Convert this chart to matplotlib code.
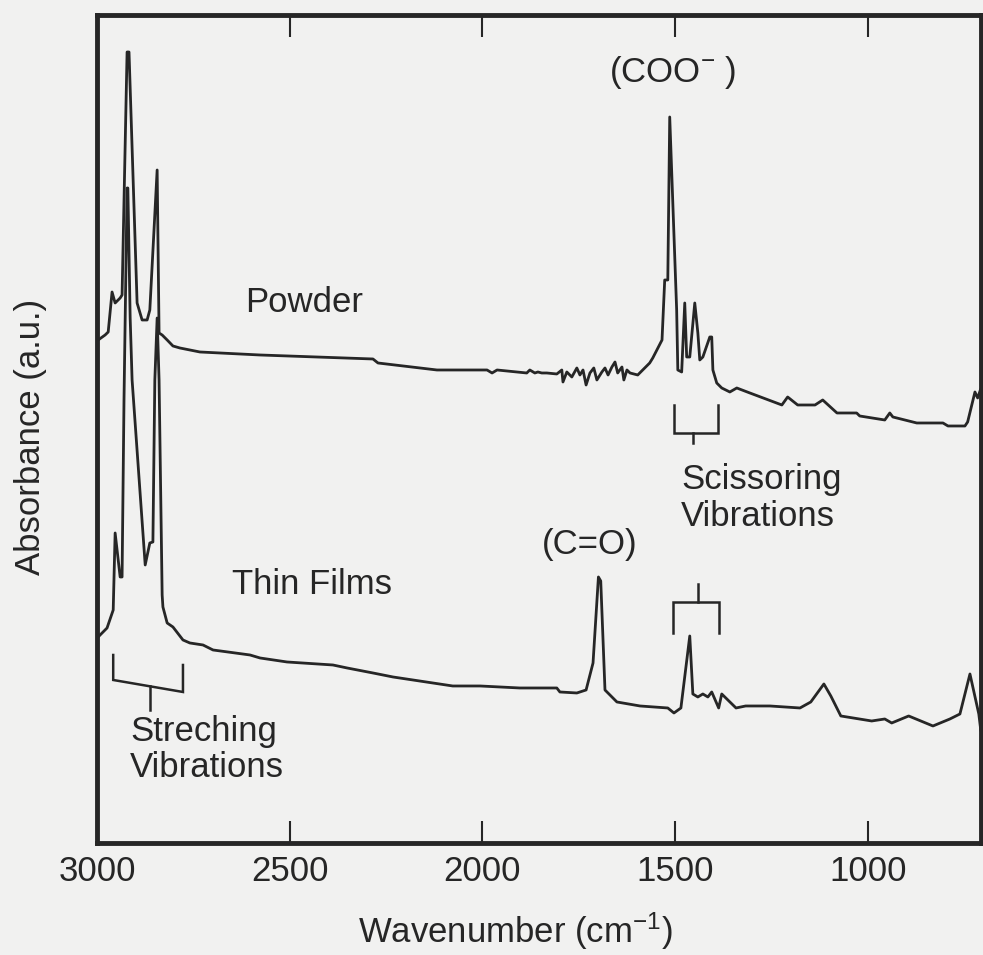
import matplotlib
matplotlib.use("Agg")
from matplotlib import pyplot as plt

# IR spectra (wavenumber in cm-1, absorbance in a.u.)
powder_wn = [2997, 2979, 2971, 2961, 2953, 2940, 2935, 2922, 2917, 2896, 2883, 2870,
             2863, 2844, 2839, 2831, 2818, 2803, 2785, 2733, 2577, 2284, 2271, 2118,
             1988, 1975, 1962, 1885, 1877, 1864, 1856, 1846, 1833, 1807, 1794, 1791,
             1781, 1768, 1755, 1747, 1739, 1731, 1721, 1711, 1703, 1690, 1682, 1674,
             1664, 1656, 1649, 1638, 1633, 1625, 1617, 1597, 1566, 1558, 1534, 1527,
             1519, 1514, 1496, 1493, 1483, 1475, 1470, 1462, 1449, 1441, 1436, 1428,
             1410, 1405, 1402, 1392, 1379, 1358, 1340, 1306, 1223, 1208, 1182, 1137,
             1117, 1080, 1029, 1021, 956, 943, 935, 873, 805, 792, 748, 741, 722, 715, 708]
powder_abs = [5.03, 5.08, 5.11, 5.51, 5.40, 5.45, 5.48, 7.91, 7.91, 5.40, 5.23, 5.23,
              5.33, 6.73, 5.10, 5.08, 5.03, 4.97, 4.95, 4.91, 4.88, 4.84, 4.80, 4.73,
              4.73, 4.70, 4.73, 4.70, 4.73, 4.70, 4.71, 4.70, 4.70, 4.69, 4.73, 4.61,
              4.71, 4.66, 4.75, 4.68, 4.73, 4.58, 4.70, 4.75, 4.63, 4.71, 4.75, 4.68,
              4.76, 4.81, 4.70, 4.76, 4.63, 4.73, 4.70, 4.68, 4.80, 4.85, 5.03, 5.63,
              5.63, 7.26, 5.33, 4.73, 4.71, 5.40, 4.86, 4.86, 5.40, 5.10, 4.83, 4.86,
              5.06, 5.06, 4.73, 4.60, 4.55, 4.51, 4.55, 4.50, 4.38, 4.46, 4.38, 4.38,
              4.43, 4.30, 4.30, 4.27, 4.23, 4.30, 4.26, 4.20, 4.20, 4.17, 4.17, 4.21,
              4.51, 4.45, 4.53]

film_wn = [2997, 2992, 2974, 2958, 2953, 2940, 2935, 2930, 2922, 2920, 2914, 2909,
           2875, 2863, 2855, 2850, 2844, 2839, 2831, 2829, 2818, 2803, 2777, 2759,
           2725, 2699, 2603, 2577, 2507, 2388, 2351, 2284, 2232, 2077, 2006, 1903,
           1807, 1799, 1755, 1731, 1713, 1699, 1693, 1682, 1651, 1591, 1519, 1503,
           1485, 1462, 1454, 1441, 1428, 1415, 1405, 1387, 1379, 1342, 1317, 1254,
           1176, 1148, 1114, 1096, 1070, 990, 956, 938, 894, 831, 787, 761, 735, 712, 707]
film_abs = [2.06, 2.08, 2.15, 2.33, 3.10, 2.66, 2.66, 4.43, 6.55, 6.55, 5.25, 4.63,
            2.78, 3.00, 3.01, 4.63, 5.25, 4.63, 2.48, 2.36, 2.20, 2.16, 2.03, 2.00,
            1.98, 1.93, 1.88, 1.85, 1.81, 1.78, 1.75, 1.70, 1.66, 1.57, 1.57, 1.55,
            1.55, 1.51, 1.50, 1.53, 1.80, 2.66, 2.62, 1.53, 1.41, 1.37, 1.35, 1.30,
            1.35, 2.07, 1.49, 1.46, 1.49, 1.46, 1.51, 1.35, 1.49, 1.35, 1.37, 1.37,
            1.35, 1.41, 1.59, 1.47, 1.27, 1.22, 1.24, 1.20, 1.27, 1.17, 1.24, 1.29,
            1.69, 1.29, 1.13]

x_ticks = [3000, 2500, 2000, 1500, 1000]
x_ticklabels = ["3000", "2500", "2000", "1500", "1000"]

INK = "#262626"
BG = "#f1f1f0"


def bracket(ax, x_left, x_right, y_left, y_right, y_leg_left, y_leg_right, x_mid, y_mid_end):
    """Draw a labelled bracket: two legs, a cross bar and a centre tick"""
    ax.plot([x_left, x_left, x_right, x_right], [y_leg_left, y_left, y_right, y_leg_right],
            color=INK, lw=1.8, solid_joinstyle="miter")
    frac = (x_left - x_mid) / (x_left - x_right)
    y_bar = y_left + frac * (y_right - y_left)
    ax.plot([x_mid, x_mid], [y_bar, y_mid_end], color=INK, lw=1.8)


def main() -> None:
    plt.rcParams["font.family"] = ["Liberation Sans", "DejaVu Sans"]
    plt.rcParams["mathtext.fontset"] = "custom"
    plt.rcParams["mathtext.rm"] = "Liberation Sans"
    plt.rcParams["mathtext.it"] = "Liberation Sans"

    fig = plt.figure(figsize=(9.83, 9.55), dpi=100, facecolor=BG)
    ax = fig.add_axes([0.0987, 0.1173, 0.899, 0.867])
    ax.set_facecolor(BG)

    ax.plot(powder_wn, powder_abs, color=INK, lw=2.0)
    ax.plot(film_wn, film_abs, color=INK, lw=2.0)

    ax.set_xlim(3000, 707)
    ax.set_ylim(0, 8.28)

    ax.set_xticks(x_ticks)
    ax.set_xticklabels(x_ticklabels)
    ax.set_yticks([])
    ax.tick_params(axis="x", direction="in", length=16, width=1.5, top=True,
                   labelsize=25, pad=9, colors=INK)
    for side in ["left", "right", "top", "bottom"]:
        ax.spines[side].set_linewidth(3.5)
        ax.spines[side].set_color(INK)

    fig.text(0.524, 0.013, "Wavenumber (cm$^{-1}$)", ha="center", va="baseline",
             fontsize=25, color=INK)
    fig.text(0.031, 0.542, "Absorbance (a.u.)", rotation=90, ha="center", va="center",
             fontsize=25, color=INK)

    # Labels
    ax.text(2463, 5.40, "Powder", ha="center", va="center", fontsize=25, color=INK)
    ax.text(2442, 2.58, "Thin Films", ha="center", va="center", fontsize=25, color=INK)
    ax.text(1506, 7.70, "(COO$^{-}$ )", ha="center", va="center", fontsize=25, color=INK)
    ax.text(1721, 2.98, "(C=O)", ha="center", va="center", fontsize=25, color=INK)
    ax.text(2914, 1.28, "Streching\nVibrations", ha="left", va="top", fontsize=25,
            color=INK, linespacing=1.12)
    ax.text(1485, 3.80, "Scissoring\nVibrations", ha="left", va="top", fontsize=25,
            color=INK, linespacing=1.15)

    # Brackets
    bracket(ax, 2958, 2777, 1.63, 1.51, 1.88, 1.78, 2863, 1.33)
    bracket(ax, 1503, 1389, 4.10, 4.10, 4.38, 4.38, 1454, 4.00)
    bracket(ax, 1506, 1387, 2.41, 2.41, 2.10, 2.10, 1441, 2.59)

    fig.savefig("out.png", dpi=100, facecolor=BG)


if __name__ == "__main__":
    main()
